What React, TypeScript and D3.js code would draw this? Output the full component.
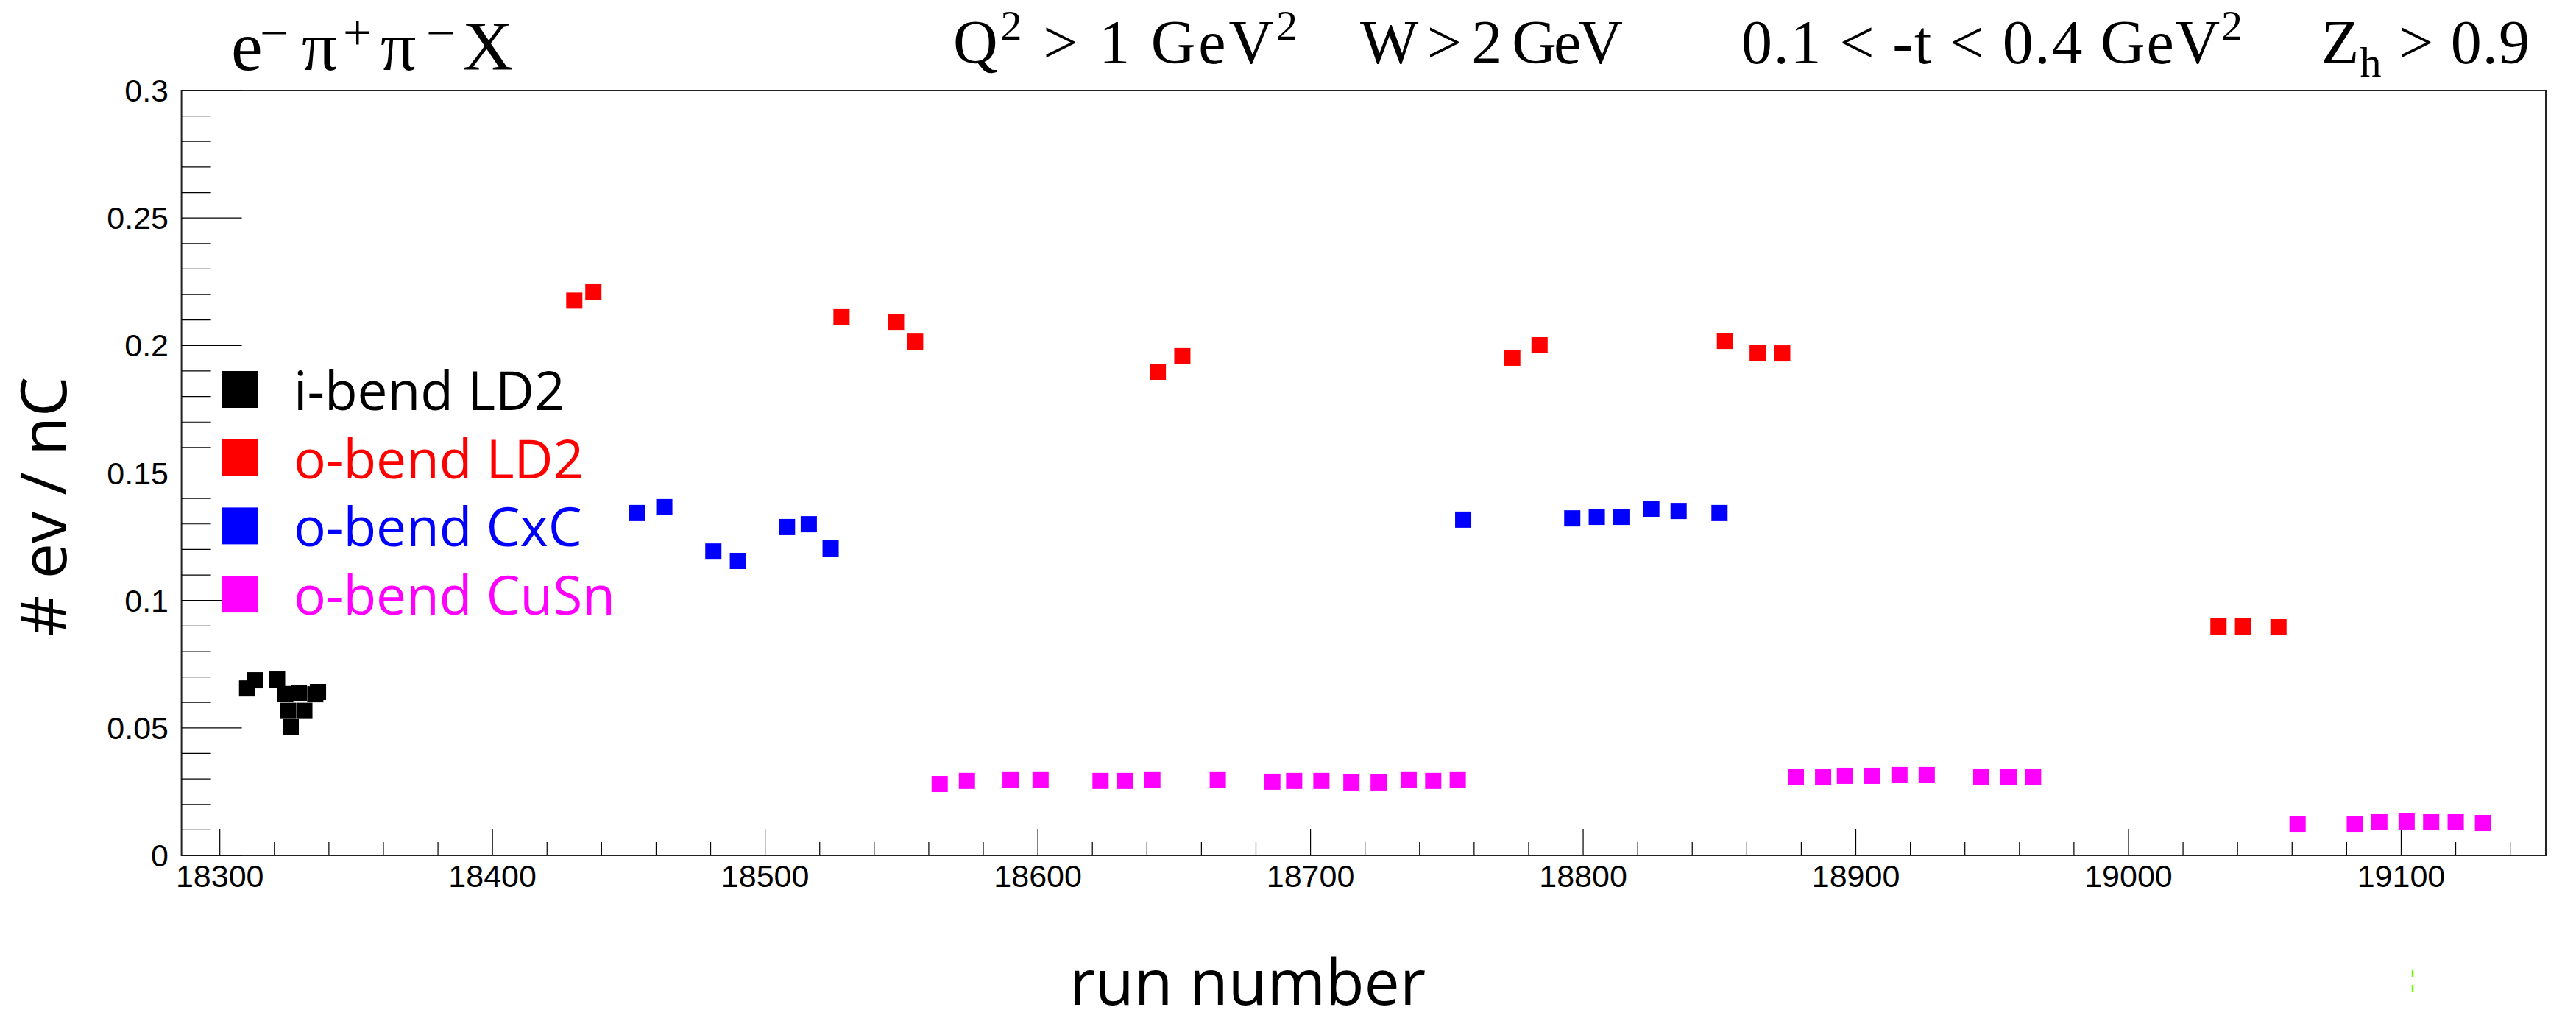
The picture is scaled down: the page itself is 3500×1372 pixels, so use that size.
import React from "react";
import * as d3 from "d3";

// ---------- data ----------
const iBendRuns = [18310, 18313, 18321, 18324, 18325, 18326, 18329, 18331, 18335, 18336];
const iBendVals = [0.0655, 0.0687, 0.069, 0.0633, 0.0567, 0.0503, 0.0638, 0.0567, 0.0632, 0.0641];

const oBendLD2Runs = [18430, 18437, 18528, 18548, 18555, 18644, 18653, 18774, 18784, 18852, 18864, 18873, 19033, 19042, 19055];
const oBendLD2Vals = [0.2176, 0.2209, 0.2111, 0.2093, 0.2015, 0.1897, 0.1958, 0.1952, 0.2001, 0.2018, 0.1972, 0.1969, 0.0898, 0.0898, 0.0895];

const oBendCxCRuns = [18453, 18463, 18481, 18490, 18508, 18516, 18524, 18756, 18796, 18805, 18814, 18825, 18835, 18850];
const oBendCxCVals = [0.1343, 0.1366, 0.1192, 0.1155, 0.1288, 0.1299, 0.1204, 0.1317, 0.1322, 0.1328, 0.1328, 0.136, 0.1351, 0.1343];

const oBendCuSnRuns = [18564, 18574, 18590, 18601, 18623, 18632, 18642, 18666, 18686, 18694, 18704, 18715, 18725, 18736, 18745, 18754, 18878, 18888, 18896, 18906, 18916, 18926, 18946, 18956, 18965, 19062, 19083, 19092, 19102, 19111, 19120, 19130];
const oBendCuSnVals = [0.028, 0.0292, 0.0295, 0.0295, 0.0292, 0.0292, 0.0295, 0.0295, 0.0289, 0.0292, 0.0292, 0.0286, 0.0286, 0.0295, 0.0292, 0.0295, 0.0309, 0.0306, 0.0312, 0.0312, 0.0315, 0.0315, 0.0309, 0.0309, 0.0309, 0.0124, 0.0124, 0.013, 0.0133, 0.013, 0.013, 0.0127];

const seriesNames = ["i-bend LD2", "o-bend LD2", "o-bend CxC", "o-bend CuSn"];
const seriesColors = ["#000000", "#ff0000", "#0000ff", "#ff00ff"];

const xMajorTicks = [18300, 18400, 18500, 18600, 18700, 18800, 18900, 19000, 19100];
const yMajorTicks = [0, 0.05, 0.1, 0.15, 0.2, 0.25, 0.3];
const yTickLabels = ["0", "0.05", "0.1", "0.15", "0.2", "0.25", "0.3"];

const X_DOMAIN = [18285.94, 19153.05];
const Y_DOMAIN = [0, 0.3];

// ---------- layout ----------
const W = 3500;
const H = 1372;
const FL = 246.6, FR = 3459, FT = 123, FB = 1162;

const SANS = "'Open Sans', 'Noto Sans', sans-serif";
const ARIAL = "'Liberation Sans', Arial, sans-serif";
const SERIF = "'Liberation Serif', 'Times New Roman', serif";

export default function App() {
  const x = d3.scaleLinear().domain(X_DOMAIN).range([FL, FR]);
  const y = d3.scaleLinear().domain(Y_DOMAIN).range([FB, FT]);

  const series = [
    { runs: iBendRuns, vals: iBendVals },
    { runs: oBendLD2Runs, vals: oBendLD2Vals },
    { runs: oBendCxCRuns, vals: oBendCxCVals },
    { runs: oBendCuSnRuns, vals: oBendCuSnVals },
  ];

  const xMinor = d3.range(18300, 19153, 20).filter((v) => v % 100 !== 0);
  const yMinor = d3.range(0, 0.3001, 0.01).filter((v) => Math.abs(v / 0.05 - Math.round(v / 0.05)) > 1e-6);

  const MS = 22;

  return (
    <svg width={W} height={H} style={{ position: "absolute", left: 0, top: 0, background: "#fff" }}>
      <rect x={0} y={0} width={W} height={H} fill="#fff" />

      {/* titles */}
      <g fontFamily={SERIF} fill="#000">
        <text x={314} y={95} fontSize={96}>e</text>
        <text x={353} y={44} fontSize={70} dominantBaseline="central">−</text>
        <text x={410} y={95} fontSize={96}>π</text>
        <text x={466} y={44} fontSize={70} dominantBaseline="central">+</text>
        <text x={517} y={95} fontSize={96}>π</text>
        <text x={579} y={44} fontSize={70} dominantBaseline="central">−</text>
        <text x={628} y={95} fontSize={96}>X</text>

        <text x={1295} y={86} fontSize={84} textLength={468} lengthAdjust="spacing">
          Q<tspan dy={-32} fontSize={58}>2</tspan><tspan dy={32}> &gt; 1 GeV</tspan><tspan dy={-32} fontSize={58}>2</tspan>
        </text>
        <text x={1848} y={86} fontSize={84} textLength={357} lengthAdjust="spacing">W &gt; 2 GeV</text>
        <text x={2366} y={86} fontSize={84} textLength={681} lengthAdjust="spacing">
          0.1 &lt; -t &lt; 0.4 GeV<tspan dy={-32} fontSize={58}>2</tspan>
        </text>
        <text x={3154} y={86} fontSize={84} textLength={283} lengthAdjust="spacing">
          Z<tspan dy={18} fontSize={58}>h</tspan><tspan dy={-18}> &gt; 0.9</tspan>
        </text>
      </g>

      {/* frame */}
      <rect x={FL} y={FT} width={FR - FL} height={FB - FT} fill="none" stroke="#222" strokeWidth={2} />

      {/* ticks */}
      <g stroke="#000" strokeWidth={1.2}>
        {xMajorTicks.map((t) => (
          <line key={"xM" + t} x1={x(t)} x2={x(t)} y1={FB} y2={FB - 36} />
        ))}
        {xMinor.map((t) => (
          <line key={"xm" + t} x1={x(t)} x2={x(t)} y1={FB} y2={FB - 18} />
        ))}
        {yMajorTicks.map((t) => (
          <line key={"yM" + t} x1={FL} x2={FL + 82} y1={y(t)} y2={y(t)} />
        ))}
        {yMinor.map((t, i) => (
          <line key={"ym" + i} x1={FL} x2={FL + 40} y1={y(t)} y2={y(t)} />
        ))}
      </g>

      {/* tick labels */}
      <g fontFamily={ARIAL} fontSize={43} fill="#000">
        {xMajorTicks.map((t) => (
          <text key={"xl" + t} x={x(t)} y={1205} textAnchor="middle">{t}</text>
        ))}
        {yMajorTicks.map((t, i) => (
          <text key={"yl" + t} x={229} y={y(t) + 15} textAnchor="end">{yTickLabels[i]}</text>
        ))}
      </g>

      {/* axis titles */}
      <text x={1695} y={1365} fontFamily={SANS} fontSize={86} textAnchor="middle" fill="#000">run number</text>
      <text transform="translate(90,688) rotate(-90)" fontFamily={SANS} fontSize={86} textAnchor="middle" fill="#000"># ev / nC</text>

      {/* data */}
      {series.map((s, si) => (
        <g key={"s" + si} fill={seriesColors[si]}>
          {s.runs.map((r, i) => (
            <rect key={i} x={x(r) - MS / 2} y={y(s.vals[i]) - MS / 2} width={MS} height={MS} />
          ))}
        </g>
      ))}

      {/* legend */}
      <g fontFamily={SANS} fontSize={73}>
        {seriesNames.map((n, i) => (
          <g key={n}>
            <rect x={301} y={504 + i * 92.7} width={50} height={50} fill={seriesColors[i]} />
            <text x={399} y={557 + i * 92.7} fill={seriesColors[i]}>{n}</text>
          </g>
        ))}
      </g>

      {/* small green marks */}
      <g stroke="#66ff00" strokeWidth={2.5}>
        <line x1={3278} x2={3278} y1={1318} y2={1327} />
        <line x1={3278} x2={3278} y1={1338} y2={1347} />
      </g>
    </svg>
  );
}
